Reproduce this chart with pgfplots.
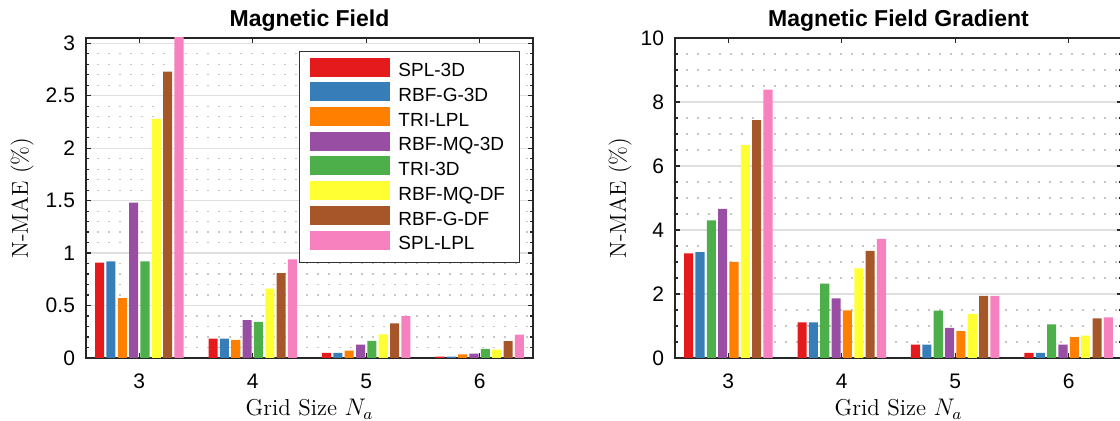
\documentclass[border=0pt]{standalone}
\usepackage{fontspec}
\usepackage{pgfplots}
\usepackage{pgfplotstable}
\pgfplotsset{compat=1.18}
\newfontfamily\hel{Liberation Sans}

\definecolor{cRed}{HTML}{E41A1C}
\definecolor{cBlue}{HTML}{377EB8}
\definecolor{cGreen}{HTML}{4DAF4A}
\definecolor{cPurple}{HTML}{984EA3}
\definecolor{cOrange}{HTML}{FF7F00}
\definecolor{cYellow}{HTML}{FFFF33}
\definecolor{cBrown}{HTML}{A65628}
\definecolor{cPink}{HTML}{F781BF}

% values per method, groups at grid size 3..6
\pgfplotstableread{
N spl3d rbfg3d trilpl rbfmq3d tri3d rbfmqdf rbfgdf spllpl
3 0.91  0.92  0.57  1.48  0.92  2.28  2.73  3.20
4 0.185 0.185 0.172 0.36  0.344 0.66  0.81  0.94
5 0.048 0.048 0.07  0.127 0.162 0.226 0.33  0.40
6 0.013 0.013 0.035 0.041 0.086 0.08  0.16  0.223
}\fieldtab

\pgfplotstableread{
N spl3d rbfg3d tri3d rbfmq3d trilpl rbfmqdf rbfgdf spllpl
3 3.27  3.31  4.30  4.66  3.00  6.65  7.43  8.39
4 1.11  1.11  2.32  1.86  1.49  2.80  3.35  3.72
5 0.42  0.42  1.48  0.94  0.84  1.38  1.94  1.94
6 0.157 0.157 1.05  0.42  0.65  0.70  1.24  1.27
}\gradtab

\pgfplotsset{
  mybar/.style={ybar, fill=#1, draw=none,
    legend image code/.code={\fill[#1] (0pt,-2.4pt) rectangle (40pt,7.1pt);}},
  common/.style={
    scale only axis, width=223.5pt, height=160pt,
    xmin=2.53, xmax=6.47, xtick={3,4,5,6}, ymin=0,
    bar width=0.08,
    tick align=inside, tick pos=both,
    major tick length=2.5pt, minor tick length=1.5pt,
    axis line style={black!85, line width=0.6pt},
    every tick/.style={black!85, line width=0.6pt},
    ymajorgrids, yminorgrids,
    major grid style={gray!25, line width=0.6pt},
    minor grid style={gray!45, line width=0.6pt, dash pattern=on 1pt off 4.5pt},
    /pgf/number format/assume math mode=true,
    tick label style={font=\hel\fontsize{10.5}{12}\selectfont},
    xticklabel style={anchor=base, yshift=-15.5pt},
    yticklabel style={xshift=-2pt},
    label style={font=\fontsize{11.5}{13}\selectfont},
    xlabel={Grid Size $N_a$},
    ylabel={N-MAE (\%)},
    xlabel style={at={(axis description cs:0.5,0)}, anchor=base, yshift=-29pt},
    title style={at={(axis description cs:0.5,1)}, anchor=base, yshift=-0.5pt,
      font=\hel\bfseries\fontsize{11.5}{13}\selectfont},
  },
}

\begin{document}
\begin{tikzpicture}
\useasboundingbox (0,0) rectangle (560pt,210.5pt);

\begin{axis}[common,
  at={(43pt,31.5pt)}, anchor=south west,
  title={Magnetic Field},
  ymax=3.05, ytick={0,0.5,1,1.5,2,2.5,3}, minor y tick num=4,
  ylabel style={at={(axis description cs:-0.143,0.5)}, anchor=center},
  legend style={at={(0.4765,0.959)}, anchor=north west, draw=black!80,
    line width=0.5pt, font=\hel\fontsize{9.5}{11}\selectfont,
    inner xsep=5.5pt, inner ysep=3pt, column sep=2.5pt, row sep=-0.75pt,
    nodes={inner sep=1.5pt, text height=7pt, text depth=2pt}},
  legend cell align=left,
]
\addplot[mybar=cRed,    bar shift=-0.35] table[x=N, y=spl3d]   {\fieldtab};
\addlegendentry{SPL-3D}
\addplot[mybar=cBlue,   bar shift=-0.25] table[x=N, y=rbfg3d]  {\fieldtab};
\addlegendentry{RBF-G-3D}
\addplot[mybar=cOrange, bar shift=-0.15] table[x=N, y=trilpl]  {\fieldtab};
\addlegendentry{TRI-LPL}
\addplot[mybar=cPurple, bar shift=-0.05] table[x=N, y=rbfmq3d] {\fieldtab};
\addlegendentry{RBF-MQ-3D}
\addplot[mybar=cGreen,  bar shift=0.05]  table[x=N, y=tri3d]   {\fieldtab};
\addlegendentry{TRI-3D}
\addplot[mybar=cYellow, bar shift=0.15]  table[x=N, y=rbfmqdf] {\fieldtab};
\addlegendentry{RBF-MQ-DF}
\addplot[mybar=cBrown,  bar shift=0.25]  table[x=N, y=rbfgdf]  {\fieldtab};
\addlegendentry{RBF-G-DF}
\addplot[mybar=cPink,   bar shift=0.35]  table[x=N, y=spllpl]  {\fieldtab};
\addlegendentry{SPL-LPL}
\end{axis}

\begin{axis}[common,
  at={(337.5pt,31.5pt)}, anchor=south west,
  title={Magnetic Field Gradient},
  ymax=10, ytick={0,2,4,6,8,10}, minor y tick num=3,
  ylabel style={at={(axis description cs:-0.123,0.5)}, anchor=center},
]
\addplot[mybar=cRed,    bar shift=-0.35] table[x=N, y=spl3d]   {\gradtab};
\addplot[mybar=cBlue,   bar shift=-0.25] table[x=N, y=rbfg3d]  {\gradtab};
\addplot[mybar=cGreen,  bar shift=-0.15] table[x=N, y=tri3d]   {\gradtab};
\addplot[mybar=cPurple, bar shift=-0.05] table[x=N, y=rbfmq3d] {\gradtab};
\addplot[mybar=cOrange, bar shift=0.05]  table[x=N, y=trilpl]  {\gradtab};
\addplot[mybar=cYellow, bar shift=0.15]  table[x=N, y=rbfmqdf] {\gradtab};
\addplot[mybar=cBrown,  bar shift=0.25]  table[x=N, y=rbfgdf]  {\gradtab};
\addplot[mybar=cPink,   bar shift=0.35]  table[x=N, y=spllpl]  {\gradtab};
\end{axis}
\end{tikzpicture}
\end{document}
